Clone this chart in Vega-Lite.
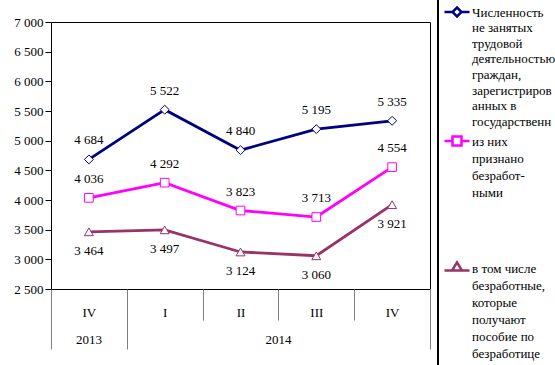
{
  "$schema": "https://vega.github.io/schema/vega-lite/v6.json",
  "width": 379,
  "height": 267,
  "autosize": "none",
  "padding": {"left": 51, "top": 22, "right": 125, "bottom": 76},
  "background": "white",
  "config": {
    "locale": {"number": {"decimal": ",", "thousands": " ", "grouping": [3], "currency": ["", ""]}},
    "view": {"stroke": "black", "strokeWidth": 1},
    "font": "Liberation Serif",
    "axis": {"labelFont": "Liberation Serif", "labelFontSize": 13, "labelColor": "black", "grid": false, "domain": false}
  },
  "data": {
    "values": [
      {"period": "IV 2013", "year": "2013", "series": "Численность не занятых трудовой деятельностью граждан, зарегистрированных в государственных учреждениях службы занятости", "value": 4684},
      {"period": "I 2014", "year": "2014", "series": "Численность не занятых трудовой деятельностью граждан, зарегистрированных в государственных учреждениях службы занятости", "value": 5522},
      {"period": "II 2014", "year": "2014", "series": "Численность не занятых трудовой деятельностью граждан, зарегистрированных в государственных учреждениях службы занятости", "value": 4840},
      {"period": "III 2014", "year": "2014", "series": "Численность не занятых трудовой деятельностью граждан, зарегистрированных в государственных учреждениях службы занятости", "value": 5195},
      {"period": "IV 2014", "year": "2014", "series": "Численность не занятых трудовой деятельностью граждан, зарегистрированных в государственных учреждениях службы занятости", "value": 5335},
      {"period": "IV 2013", "year": "2013", "series": "из них признано безработными", "value": 4036},
      {"period": "I 2014", "year": "2014", "series": "из них признано безработными", "value": 4292},
      {"period": "II 2014", "year": "2014", "series": "из них признано безработными", "value": 3823},
      {"period": "III 2014", "year": "2014", "series": "из них признано безработными", "value": 3713},
      {"period": "IV 2014", "year": "2014", "series": "из них признано безработными", "value": 4554},
      {"period": "IV 2013", "year": "2013", "series": "в том числе безработные, которые получают пособие по безработице", "value": 3464},
      {"period": "I 2014", "year": "2014", "series": "в том числе безработные, которые получают пособие по безработице", "value": 3497},
      {"period": "II 2014", "year": "2014", "series": "в том числе безработные, которые получают пособие по безработице", "value": 3124},
      {"period": "III 2014", "year": "2014", "series": "в том числе безработные, которые получают пособие по безработице", "value": 3060},
      {"period": "IV 2014", "year": "2014", "series": "в том числе безработные, которые получают пособие по безработице", "value": 3921}
    ]
  },
  "encoding": {
    "x": {
      "field": "period",
      "type": "nominal",
      "scale": {"type": "band", "domain": ["IV 2013", "I 2014", "II 2014", "III 2014", "IV 2014"], "paddingInner": 0, "paddingOuter": 0},
      "axis": {
        "title": null,
        "tickBand": "extent",
        "labelAngle": 0,
        "labelExpr": "split(datum.label, ' ')[0]",
        "tickColor": "#808080",
        "tickSize": {"condition": {"test": "datum.extra || datum.value == 'IV 2013' || datum.value == 'IV 2014'", "value": 60}, "value": 31},
        "labelPadding": {"condition": {"test": "datum.value == 'IV 2013' || datum.value == 'IV 2014'", "value": -37}, "value": -8},
        "labelBaseline": "middle"
      }
    },
    "y": {
      "field": "value",
      "type": "quantitative",
      "scale": {"domain": [2500, 7000], "nice": false, "zero": false},
      "axis": {"title": null, "values": [2500, 3000, 3500, 4000, 4500, 5000, 5500, 6000, 6500, 7000], "format": ",d", "tickSize": 6, "tickColor": "black", "labelPadding": 2}
    },
    "stroke": {
      "field": "series",
      "type": "nominal",
      "scale": {
        "domain": [
          "Численность не занятых трудовой деятельностью граждан, зарегистрированных в государственных учреждениях службы занятости",
          "из них признано безработными",
          "в том числе безработные, которые получают пособие по безработице"
        ],
        "range": ["#000080", "#FF00FF", "#993366"]
      },
      "legend": {
        "orient": "none",
        "legendX": 387,
        "legendY": -27,
        "title": null,
        "padding": 5,
        "strokeColor": "black",
        "fillColor": "white",
        "labelFont": "Liberation Serif",
        "labelFontSize": 13,
        "labelColor": "black",
        "labelLimit": 300,
        "labelOffset": 1,
        "rowPadding": 0,
        "clipHeight": 126.5,
        "symbolType": "M-1,0H-0.36M0.36,0H1M0,-0.36L0.36,0L0,0.36L-0.36,0Z",
        "symbolSize": 625,
        "symbolStrokeWidth": 2.5,
        "symbolFillColor": "white",
        "symbolOffset": 0,
        "labelBaseline": "alphabetic",
        "labelExpr": "[['Численность','не занятых','трудовой','деятельностью','граждан,','зарегистриров','анных в','государственн'],['из них','признано','безработ-','ными'],['в том числе','безработные,','которые','получают','пособие по','безработице']][datum.index]",
        "encode": {
          "legend": {"update": {"strokeWidth": {"value": 2}}},
          "symbols": {"update": {"y": {"value": 12}, "shape": {"signal": "['M-1,0H-0.36M0.36,0H1M0,-0.36L0.36,0L0,0.36L-0.36,0Z','M-1,0H-0.36M0.36,0H1M-0.36,-0.36H0.36V0.36H-0.36Z','M-1,0.2H-0.4M0.4,0.2H1M0,-0.45L0.4,0.2L-0.4,0.2Z'][datum.index]"}}},
          "labels": {"update": {"y": {"value": 12}, "dy": {"value": 4.5}, "lineHeight": {"signal": "datum.index == 0 ? 15.6 : 17"}}}
        }
      }
    }
  },
  "layer": [
    {
      "mark": {"type": "line", "strokeWidth": 2.8}
    },
    {
      "transform": [{"filter": "datum.series == 'Численность не занятых трудовой деятельностью граждан, зарегистрированных в государственных учреждениях службы занятости'"}],
      "mark": {"type": "point", "shape": "diamond", "filled": false, "fill": "white", "strokeWidth": 1, "size": 80, "opacity": 1}
    },
    {
      "transform": [{"filter": "datum.series == 'из них признано безработными'"}],
      "mark": {"type": "point", "shape": "square", "filled": false, "fill": "white", "strokeWidth": 1, "size": 75, "opacity": 1}
    },
    {
      "transform": [{"filter": "datum.series == 'в том числе безработные, которые получают пособие по безработице'"}],
      "mark": {"type": "point", "shape": "triangle-up", "filled": false, "fill": "white", "strokeWidth": 1, "size": 80, "opacity": 1}
    },
    {
      "transform": [{"filter": "datum.series != 'в том числе безработные, которые получают пособие по безработице'"}],
      "mark": {"type": "text", "dy": -19, "fontSize": 13, "font": "Liberation Serif", "color": "black"},
      "encoding": {"stroke": {"value": null}, "text": {"field": "value", "type": "quantitative", "format": ",d"}}
    },
    {
      "transform": [{"filter": "datum.series == 'в том числе безработные, которые получают пособие по безработице'"}],
      "mark": {"type": "text", "dy": 19, "fontSize": 13, "font": "Liberation Serif", "color": "black"},
      "encoding": {"stroke": {"value": null}, "text": {"field": "value", "type": "quantitative", "format": ",d"}}
    },
    {
      "transform": [{"filter": "datum.period == 'IV 2013' && datum.series == 'из них признано безработными'"}],
      "mark": {"type": "text", "dy": 51, "fontSize": 13, "font": "Liberation Serif", "color": "black"},
      "encoding": {
        "stroke": {"value": null},
        "x": {"field": "period", "type": "nominal", "bandPosition": 0.5},
        "y": {"datum": 2500, "type": "quantitative"},
        "text": {"field": "year", "type": "nominal"}
      }
    },
    {
      "transform": [{"filter": "datum.period == 'II 2014' && datum.series == 'из них признано безработными'"}],
      "mark": {"type": "text", "dy": 51, "fontSize": 13, "font": "Liberation Serif", "color": "black"},
      "encoding": {
        "stroke": {"value": null},
        "x": {"field": "period", "type": "nominal", "bandPosition": 1},
        "y": {"datum": 2500, "type": "quantitative"},
        "text": {"field": "year", "type": "nominal"}
      }
    }
  ]
}
